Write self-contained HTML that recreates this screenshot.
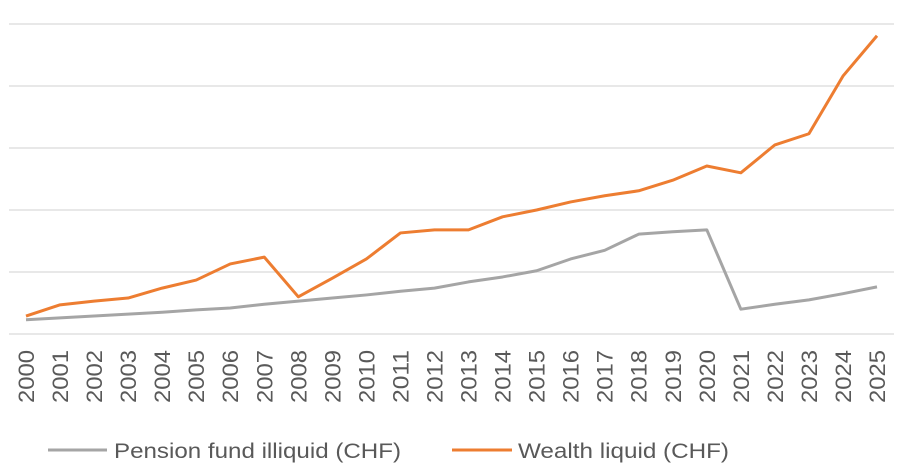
<!DOCTYPE html>
<html><head><meta charset="utf-8"><style>
body{margin:0;background:#fff;}
svg text{font-family:"Liberation Sans",sans-serif;fill:#595959;}
</style></head><body>
<svg id="chart" width="908" height="468" xmlns="http://www.w3.org/2000/svg">
<g id="grid"></g>
<g id="xaxis"></g>
<g id="series"></g>
<g>
<line x1="48" y1="450" x2="107" y2="450" stroke="#A5A5A5" stroke-width="3"/>
<text x="114" y="458" font-size="21" textLength="287" lengthAdjust="spacingAndGlyphs">Pension fund illiquid (CHF)</text>
<line x1="452" y1="450" x2="512" y2="450" stroke="#ED7D31" stroke-width="3"/>
<text x="518" y="458" font-size="21" textLength="211" lengthAdjust="spacingAndGlyphs">Wealth liquid (CHF)</text>
</g>
</svg>
<script>
const years=[2000,2001,2002,2003,2004,2005,2006,2007,2008,2009,2010,2011,2012,2013,2014,2015,2016,2017,2018,2019,2020,2021,2022,2023,2024,2025];
const wealth=[0.29,0.47,0.53,0.58,0.74,0.87,1.13,1.24,0.60,0.90,1.21,1.63,1.68,1.68,1.89,2.00,2.13,2.23,2.31,2.48,2.71,2.60,3.05,3.23,4.16,4.81];
const pension=[0.23,0.26,0.29,0.32,0.35,0.39,0.42,0.48,0.53,0.58,0.63,0.69,0.74,0.84,0.92,1.02,1.21,1.35,1.61,1.65,1.68,0.40,0.48,0.55,0.65,0.76];
const gridVals=[0,1,2,3,4,5];
const NS="http://www.w3.org/2000/svg";
const x=i=>26+i*(877-26)/(years.length-1);
const y=v=>334-v*62;
const grid=document.getElementById('grid');
gridVals.forEach(g=>{const l=document.createElementNS(NS,'line');


l.setAttribute('x1',9);l.setAttribute('x2',894);l.setAttribute('y1',y(g));l.setAttribute('y2',y(g));
l.setAttribute('stroke','#D9D9D9');l.setAttribute('stroke-width','1.3');grid.appendChild(l);});
const xa=document.getElementById('xaxis');
years.forEach((yr,i)=>{const t=document.createElementNS(NS,'text');


t.setAttribute('font-size','22');t.setAttribute('text-anchor','end');
t.setAttribute('textLength','53');t.setAttribute('lengthAdjust','spacingAndGlyphs');
t.setAttribute('transform',`translate(${x(i)+8},350) rotate(-90)`);t.textContent=yr;xa.appendChild(t);});
const s=document.getElementById('series');
function line(arr,color,name){const p=document.createElementNS(NS,'polyline');


p.setAttribute('points',arr.map((v,i)=>x(i)+','+y(v)).join(' '));
p.setAttribute('fill','none');p.setAttribute('stroke',color);p.setAttribute('stroke-width','3');p.setAttribute('stroke-linejoin','round');
s.appendChild(p);}
line(pension,'#A5A5A5','pension-line');
line(wealth,'#ED7D31','wealth-line');
</script>
</body></html>
